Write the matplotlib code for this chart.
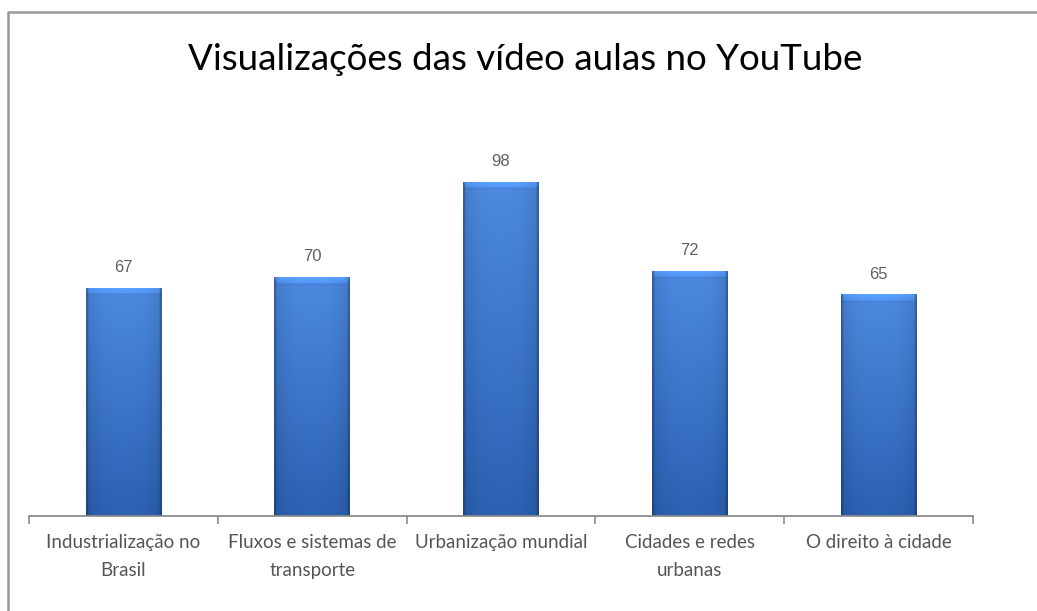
import numpy as np
import matplotlib
matplotlib.use("Agg")
import matplotlib.pyplot as plt
from matplotlib.lines import Line2D

categories = [
    "Industrialização no\nBrasil",
    "Fluxos e sistemas de\ntransporte",
    "Urbanização mundial",
    "Cidades e redes\nurbanas",
    "O direito à cidade",
]
views = [67, 70, 98, 72, 65]
title = "Visualizações das vídeo aulas no YouTube"

W, H, DPI = 1037, 611, 100
fig = plt.figure(figsize=(W / DPI, H / DPI), dpi=DPI)
fig.patch.set_facecolor("white")

ax = fig.add_axes([29 / W, (H - 516) / H, 944 / W, 409 / H])
ax.set_xlim(-0.5, len(views) - 0.5)
ax.set_ylim(0, 120)

bar_w = 0.40
x = np.arange(len(views))
bars = ax.bar(x, views, width=bar_w, color="none", edgecolor="none", zorder=2)


def bar_image(value, ncols=200):
    """Shaded bar face: vertical light-to-dark ramp, darker sides, bevelled top."""
    nrows = int(round(value * 10))
    top = np.array([0.30, 0.54, 0.88])
    bottom = np.array([0.17, 0.38, 0.70])
    t = np.linspace(0, 1, nrows)[:, None, None]
    img = top * (1 - t) + bottom * t
    img = np.repeat(img, ncols, axis=1)
    u = np.linspace(-1, 1, ncols)
    side = 1 - 0.12 * np.abs(u) ** 3
    img = img * side[None, :, None]
    # darker thin side edges
    edge = 6
    img[:, :edge] *= 0.80
    img[:, -edge:] *= 0.80
    # bevel on top
    bev = 20
    for r in range(bev):
        c0 = int(r * edge / bev * 1.3)
        shade = 1.20 - 0.12 * r / bev
        img[r, c0:ncols - c0] = np.clip(img[r, c0:ncols - c0] * shade, 0, 1)
    img[bev:bev + 4] *= 0.94
    return np.clip(img, 0, 1)


for rect, v in zip(bars, views):
    x0 = rect.get_x()
    im = ax.imshow(bar_image(v), extent=[x0, x0 + bar_w, 0, v],
                   aspect="auto", origin="upper", zorder=2, interpolation="bilinear")
    im.set_clip_path(rect)
    ax.text(x0 + bar_w / 2, v + 3.8, str(v), ha="center", va="bottom",
            fontsize=12, color="#5f5f5f", family="Liberation Sans")

ax.set_xticks(x)
ax.set_xticklabels(categories, fontsize=13.5, color="#555555",
                   family="Lato", linespacing=1.75)
ax.tick_params(axis="x", which="major", length=0, pad=13)
ax.set_xticks(np.arange(-0.5, len(views)), minor=True)
ax.tick_params(axis="x", which="minor", length=6, width=1.2, color="#8c8c8c",
               direction="out")
ax.set_yticks([])
for s in ["top", "right", "left"]:
    ax.spines[s].set_visible(False)
ax.spines["bottom"].set_color("#8c8c8c")
ax.spines["bottom"].set_linewidth(1.3)
ax.set_facecolor("none")

fig.text(525 / W, 1 - 60 / H, title, ha="center", va="center",
         fontsize=26.5, color="black", family="Lato")

# outer chart frame (top and left edges)
fig.add_artist(Line2D([8 / W, 8 / W, 1.0], [0.0, 1 - 12 / H, 1 - 12 / H],
                      transform=fig.transFigure, color="#999999", linewidth=1.8))

fig.savefig("out.png", dpi=DPI, facecolor="white")
